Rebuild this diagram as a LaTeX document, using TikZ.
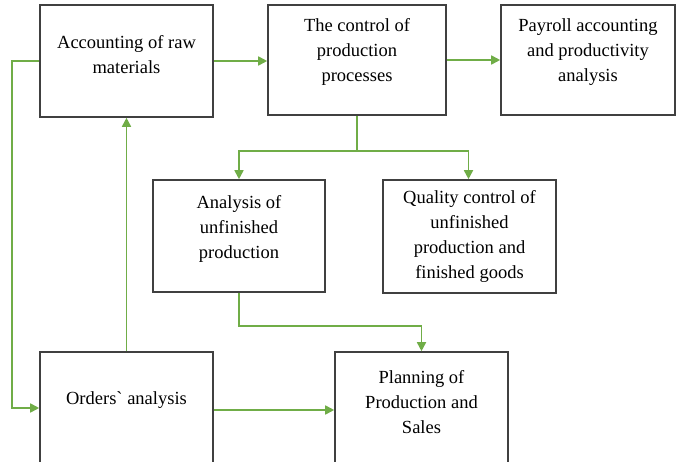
\documentclass[tikz,border=0pt]{standalone}
\usepackage{fontspec}
\setmainfont{Liberation Serif}
\usepackage{tikz}
\usetikzlibrary{positioning,arrows.meta,calc}
\definecolor{linkgreen}{RGB}{112,173,71}
\definecolor{boxgray}{RGB}{64,64,64}

\begin{document}
\begin{tikzpicture}[x=1pt,y=-1pt,
    box/.style={draw=boxgray,line width=1.6pt,inner sep=0pt},
    txt/.style={align=center,font=\fontsize{18.5}{25}\selectfont},
    link/.style={draw=linkgreen,line width=1.7pt,-{Triangle[length=9pt,width=9pt]}}]
  \useasboundingbox (0,0) rectangle (680,462);
  \clip (0,0) rectangle (680,462);
  % boxes
  \node[box,minimum width=173pt,minimum height=112pt] (A) at (126.5,61) {};
  \node[box,minimum width=178pt,minimum height=110pt] (B) at (357,60) {};
  \node[box,minimum width=174pt,minimum height=110pt] (C) at (588,60) {};
  \node[box,minimum width=172pt,minimum height=112pt] (D) at (239,236) {};
  \node[box,minimum width=173pt,minimum height=113pt] (E) at (469.5,236.5) {};
  \node[box,minimum width=173pt,minimum height=120pt] (F) at (126.5,412) {};
  \node[box,minimum width=173pt,minimum height=120pt] (G) at (421.5,412) {};
  % texts
  \node[txt] (At) at ($(A.center)+(0,-6)$) {Accounting of raw\\materials};
  \node[txt] (Bt) at ($(B.center)+(0,-8)$) {The control of\\production\\processes};
  \node[txt] (Ct) at ($(C.center)+(0,-8)$) {Payroll accounting\\and productivity\\analysis};
  \node[txt] (Dt) at ($(D.center)+(0,-7)$) {Analysis of\\unfinished\\production};
  \node[txt] (Et) at ($(E.center)+(0,0)$) {Quality control of\\unfinished\\production and\\finished goods};
  \node[txt] (Ft) at ($(F.center)+(0,-12)$) {Orders\textasciigrave{} analysis};
  \node[txt] (Gt) at ($(G.center)+(0,-10)$) {Planning of\\Production and\\Sales};
  % connectors
  \coordinate (split) at ($(B.south)+(0,35)$);
  \draw[link] (A.east) -- (A.east -| B.west);
  \draw[link] (B.east) -- (B.east -| C.west);
  \draw[link] (B.south) -- (split) -| (D.north);
  \draw[link] (split) -| ($(E.north)+(-1,0)$);
  \draw[link] (D.south) -- ++(0,33) -| (G.north);
  \draw[link] (F.north) -- (F.north |- A.south);
  \draw[link] (A.west) -- ++(-27,0) |- ($(F.west)+(0,-4)$);
  \draw[link] ($(F.east)+(0,-2)$) -- ($(G.west)+(0,-2)$);
\end{tikzpicture}
\end{document}
